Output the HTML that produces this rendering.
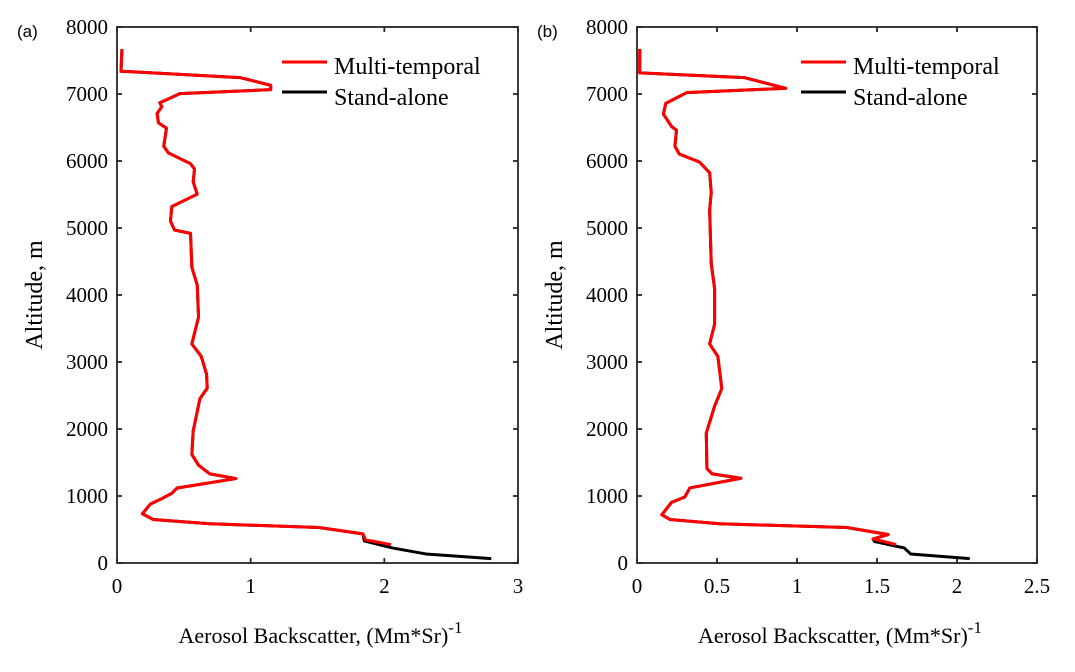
<!DOCTYPE html>
<html><head><meta charset="utf-8"><style>
body{margin:0;background:#fff;}
svg text{font-family:"Liberation Serif",serif;fill:#000;}
</style></head><body>
<svg id="chart" width="1075" height="667" xmlns="http://www.w3.org/2000/svg"></svg>
<script>
const altTicks=[0,1000,2000,3000,4000,5000,6000,7000,8000];
const xTicksA=[0,1,2,3];
const xTicksB=[0,0.5,1,1.5,2,2.5];
const altA=[7670,7340,7245,7130,7065,7005,6940,6870,6810,6710,6570,6490,6220,6120,5960,5880,5690,5505,5320,5105,4970,4920,4415,4150,3670,3270,3085,2820,2610,2450,1970,1620,1460,1330,1260,1120,1040,960,880,735,650,585,530,435];
const valA=[0.037,0.03,0.92,1.15,1.15,0.47,0.40,0.32,0.335,0.30,0.31,0.37,0.35,0.385,0.55,0.58,0.57,0.60,0.41,0.40,0.43,0.55,0.56,0.60,0.61,0.56,0.63,0.67,0.675,0.62,0.57,0.56,0.61,0.695,0.89,0.45,0.41,0.335,0.25,0.19,0.27,0.695,1.51,1.84];
const redTailAltA=[345,275];
const redTailValA=[1.86,2.05];
const blackTailAltA=[330,225,135,65];
const blackTailValA=[1.85,2.06,2.31,2.80];
const altB=[7670,7315,7245,7085,7020,6860,6700,6515,6460,6220,6105,5985,5825,5530,5265,4470,4095,3565,3270,3085,2605,2340,1940,1410,1330,1265,1120,985,905,720,650,585,530,425];
const valB=[0.017,0.017,0.67,0.93,0.31,0.18,0.165,0.216,0.247,0.237,0.264,0.39,0.454,0.464,0.454,0.464,0.485,0.485,0.454,0.505,0.53,0.485,0.433,0.437,0.47,0.65,0.33,0.299,0.216,0.155,0.206,0.515,1.31,1.57];
const redTailAltB=[360,275];
const redTailValB=[1.475,1.62];
const blackTailAltB=[360,320,225,135,65];
const blackTailValB=[1.475,1.485,1.67,1.71,2.08];

const svg=document.getElementById('chart');
const NS='http://www.w3.org/2000/svg';
function mk(tag,attrs,parent){const e=document.createElementNS(NS,tag);for(const k in attrs)e.setAttribute(k,attrs[k]);(parent||svg).appendChild(e);return e;}
const y0=563,y1=27;
function yS(a){return y0-(a/8000)*(y0-y1);}

function panel(id,x0,x1,xmax,xTicks,alt,val,rTA,rTV,bTA,bTV,label){
  const g=mk('g',{});
  
  
  const xS=v=>x0+v/xmax*(x1-x0);
  const box=mk('rect',{x:x0,y:y1,width:x1-x0,height:y0-y1,fill:'none',stroke:'#262626','stroke-width':1.8},g);
  
  
  xTicks.forEach(t=>{const x=xS(t);
    mk('line',{x1:x,y1:y0,x2:x,y2:y0-5,stroke:'#262626','stroke-width':1.8},g);
    mk('line',{x1:x,y1:y1,x2:x,y2:y1+5,stroke:'#262626','stroke-width':1.8},g);
    const tx=mk('text',{x:x,y:y0+30,'text-anchor':'middle','font-size':21},g);tx.textContent=t;
    
    });
  altTicks.forEach(t=>{const y=yS(t);
    mk('line',{x1:x0,y1:y,x2:x0+5,y2:y,stroke:'#262626','stroke-width':1.8},g);
    mk('line',{x1:x1,y1:y,x2:x1-5,y2:y,stroke:'#262626','stroke-width':1.8},g);
    const tx=mk('text',{x:x0-9,y:y+7,'text-anchor':'end','font-size':21},g);tx.textContent=t;
    
    });
  const bA=alt.concat(bTA),bV=val.concat(bTV);
  const rA=alt.concat(rTA),rV=val.concat(rTV);
  const bl=mk('polyline',{points:bA.map((a,i)=>xS(bV[i])+','+yS(a)).join(' '),fill:'none',stroke:'#000','stroke-width':3,'stroke-linejoin':'round'},g);
  
  
  const rl=mk('polyline',{points:rA.map((a,i)=>xS(rV[i])+','+yS(a)).join(' '),fill:'none',stroke:'#ff0000','stroke-width':3,'stroke-linejoin':'round'},g);
  
  
  const lx=x1-236;
  const lg=mk('g',{},g);
  
  
  mk('line',{x1:lx,y1:62,x2:lx+45,y2:62,stroke:'#ff0000','stroke-width':3},lg);
  let t=mk('text',{x:lx+52,y:74,'font-size':24},lg);t.textContent='Multi-temporal';
  mk('line',{x1:lx,y1:92,x2:lx+45,y2:92,stroke:'#000','stroke-width':3},lg);
  t=mk('text',{x:lx+52,y:105,'font-size':24},lg);t.textContent='Stand-alone';
  const pl=mk('text',{x:x0-100,y:37,'font-size':17,style:'font-family:"Liberation Sans",sans-serif'},g);pl.textContent=label;
  
  
  const yt=mk('text',{x:0,y:0,'font-size':24,'text-anchor':'middle',transform:`translate(${x0-75},295) rotate(-90)`},g);yt.textContent='Altitude, m';
  
  
  const xt=mk('text',{x:(x0+x1)/2+3,y:643,'font-size':22,'text-anchor':'middle'},g);
  xt.innerHTML='Aerosol Backscatter, (Mm*Sr)<tspan dy="-10" font-size="17">-1</tspan>';
  
  
}
panel('a',117,518,3,xTicksA,altA,valA,redTailAltA,redTailValA,blackTailAltA,blackTailValA,'(a)');
panel('b',637,1037,2.5,xTicksB,altB,valB,redTailAltB,redTailValB,blackTailAltB,blackTailValB,'(b)');
</script>
</body></html>
